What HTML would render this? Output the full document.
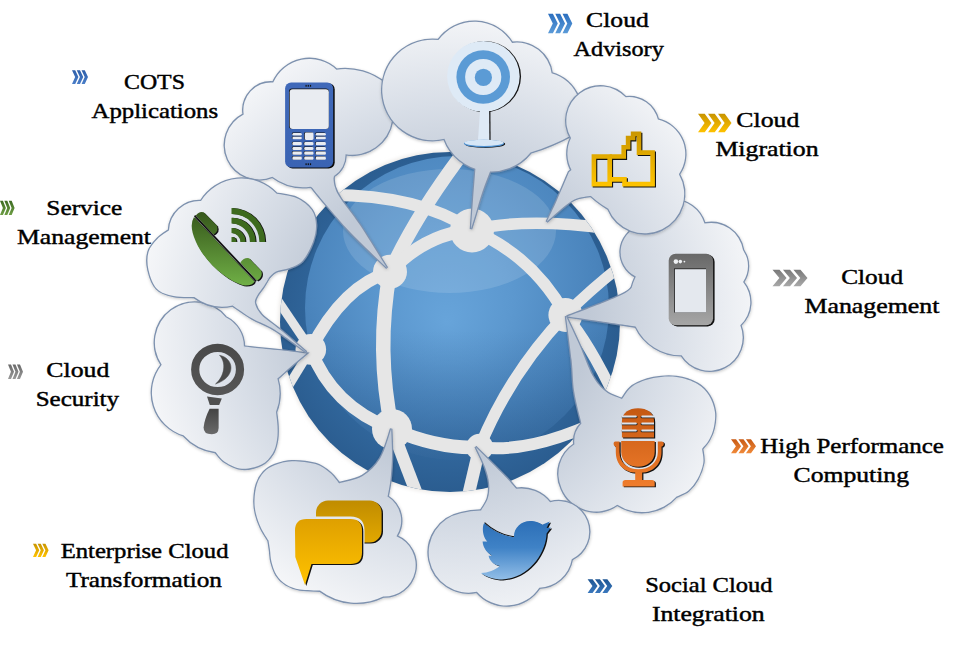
<!DOCTYPE html>
<html><head><meta charset="utf-8"><style>
html,body{margin:0;padding:0;background:#fff;}
svg{display:block;}
text{font-family:"Liberation Serif",serif;font-size:22px;fill:#000;stroke:#000;stroke-width:0.45px;}
.cs{fill:none;stroke:#7d91ae;stroke-width:2.6;}
.cf{fill:url(#gcl);stroke:none;}
</style></head><body>
<svg width="962" height="646" viewBox="0 0 962 646">
<defs>
<radialGradient id="gglobe" cx="447" cy="322" r="170" gradientUnits="userSpaceOnUse">
<stop offset="0" stop-color="#3d74ab"/><stop offset="0.8" stop-color="#30659a"/><stop offset="1" stop-color="#2b5d90"/>
</radialGradient>
<radialGradient id="ginner" cx="452" cy="220" r="290" fx="447" fy="322" gradientUnits="userSpaceOnUse">
<stop offset="0" stop-color="#67a4da"/><stop offset="0.22" stop-color="#5c98cf"/><stop offset="0.5" stop-color="#4a84bc"/><stop offset="0.75" stop-color="#3a70a6"/><stop offset="1" stop-color="#2d6196"/>
</radialGradient>
<linearGradient id="gdark" gradientUnits="userSpaceOnUse" x1="0" y1="330" x2="0" y2="470"><stop offset="0" stop-color="#1d4a7a" stop-opacity="0"/><stop offset="1" stop-color="#1d4a7a" stop-opacity="0.3"/></linearGradient>
<radialGradient id="gcl" cx="450" cy="322" r="330" gradientUnits="userSpaceOnUse">
<stop offset="0.42" stop-color="#c0c9d6"/><stop offset="0.66" stop-color="#d8dee7"/><stop offset="0.95" stop-color="#f6f7f9"/>
</radialGradient>
<linearGradient id="gtab" x1="0" y1="0" x2="0" y2="1"><stop offset="0" stop-color="#686868"/><stop offset="1" stop-color="#a6a6a6"/></linearGradient>
<linearGradient id="gtw" gradientUnits="userSpaceOnUse" x1="0" y1="521" x2="0" y2="580"><stop offset="0" stop-color="#2c6fb7"/><stop offset="0.45" stop-color="#3f82c6"/><stop offset="1" stop-color="#93bfe8"/></linearGradient>
<linearGradient id="gch1" x1="0" y1="0" x2="0" y2="1"><stop offset="0" stop-color="#c08c00"/><stop offset="1" stop-color="#e2a800"/></linearGradient>
<linearGradient id="gch2" x1="0" y1="0" x2="0" y2="1"><stop offset="0" stop-color="#dfa000"/><stop offset="1" stop-color="#ffc200"/></linearGradient>
<linearGradient id="ggr" gradientUnits="userSpaceOnUse" x1="0" y1="210" x2="0" y2="286"><stop offset="0" stop-color="#35551a"/><stop offset="1" stop-color="#70b046"/></linearGradient>
<linearGradient id="ch_blue1" x1="0" y1="0" x2="0" y2="1"><stop offset="0" stop-color="#2c6fbf"/><stop offset="1" stop-color="#5b9bd8"/></linearGradient>
<linearGradient id="ch_blue2" x1="0" y1="0" x2="0" y2="1"><stop offset="0" stop-color="#2d5ea9"/><stop offset="1" stop-color="#4a7ec8"/></linearGradient>
<linearGradient id="ch_blue3" x1="0" y1="0" x2="0" y2="1"><stop offset="0" stop-color="#1e5694"/><stop offset="1" stop-color="#3a78bd"/></linearGradient>
<linearGradient id="ch_gold" x1="0" y1="0" x2="0" y2="1"><stop offset="0" stop-color="#c89400"/><stop offset="1" stop-color="#ffc200"/></linearGradient>
<linearGradient id="ch_green" x1="0" y1="0" x2="0" y2="1"><stop offset="0" stop-color="#3c6a22"/><stop offset="1" stop-color="#6e9e44"/></linearGradient>
<linearGradient id="ch_grey1" x1="0" y1="0" x2="0" y2="1"><stop offset="0" stop-color="#7a7a7a"/><stop offset="1" stop-color="#a8a8a8"/></linearGradient>
<linearGradient id="ch_grey2" x1="0" y1="0" x2="0" y2="1"><stop offset="0" stop-color="#6a6a6a"/><stop offset="1" stop-color="#9a9a9a"/></linearGradient>
<linearGradient id="ch_orange" x1="0" y1="0" x2="0" y2="1"><stop offset="0" stop-color="#c85a14"/><stop offset="1" stop-color="#f08a3a"/></linearGradient>
<clipPath id="gclip"><circle cx="450" cy="322" r="170"/></clipPath>
<filter id="gsh" x="-10%" y="-10%" width="120%" height="120%"><feGaussianBlur stdDeviation="2"/></filter>
<linearGradient id="gphone" x1="0" y1="0" x2="0" y2="1"><stop offset="0" stop-color="#4069b9"/><stop offset="1" stop-color="#3a63b3"/></linearGradient>
<linearGradient id="gthumb" gradientUnits="userSpaceOnUse" x1="0" y1="131" x2="0" y2="187"><stop offset="0" stop-color="#c99500"/><stop offset="1" stop-color="#ffc400"/></linearGradient>
<linearGradient id="gmic" gradientUnits="userSpaceOnUse" x1="0" y1="408" x2="0" y2="487"><stop offset="0" stop-color="#c45812"/><stop offset="1" stop-color="#f07d2c"/></linearGradient>
<linearGradient id="gmag" x1="0" y1="0" x2="0" y2="1"><stop offset="0" stop-color="#4a4a4a"/><stop offset="1" stop-color="#555"/></linearGradient>
<linearGradient id="gmag2" x1="0" y1="0" x2="0" y2="1"><stop offset="0" stop-color="#444"/><stop offset="1" stop-color="#6a6a6a"/></linearGradient>
<filter id="csh" x="-15%" y="-15%" width="130%" height="130%"><feDropShadow dx="0.3" dy="1" stdDeviation="1.8" flood-color="#000" flood-opacity="0.22"/></filter>
</defs>
<circle cx="450" cy="322" r="171.2" fill="#e9e6e3" filter="url(#gsh)"/><circle cx="450" cy="322" r="170" fill="url(#gglobe)"/><circle cx="457" cy="308" r="152" fill="url(#ginner)"/><circle cx="457" cy="308" r="152" fill="url(#gdark)"/><ellipse cx="449.5" cy="231" rx="106.5" ry="62" fill="#ffffff" fill-opacity="0.13"/><g clip-path="url(#gclip)" fill="none" stroke="#e6e6e6" stroke-linecap="butt"><path d="M330,195 Q420,195 472,230" stroke-width="12"/><path d="M472,230 Q530,216 625,231" stroke-width="11.5"/><path d="M469,145 Q416,214 390,271.8" stroke-width="13.5"/><path d="M390,271.8 Q375.5,350 392,429" stroke-width="14.5"/><path d="M392,429 L421,505" stroke-width="12.5"/><path d="M390,271.8 Q425,234 472,230" stroke-width="13"/><path d="M390,271.8 Q343,286 310.8,349.4" stroke-width="12.5"/><path d="M472,230 Q533,256 565.4,314.9" stroke-width="12"/><path d="M565.4,314.9 Q595,285 635,255" stroke-width="11"/><path d="M565.4,314.9 Q510,373 479.6,447.2" stroke-width="11.5"/><path d="M565.4,314.9 Q595,350 625,420" stroke-width="11"/><path d="M310.8,349.4 Q332,406 392,429" stroke-width="12.5"/><path d="M392,429 Q440,449.5 479.6,447.2" stroke-width="13.5"/><path d="M479.6,447.2 Q540,455 630,405" stroke-width="12"/><path d="M479.6,447.2 L466,505" stroke-width="12.5"/><path d="M310.8,349.4 L272,292" stroke-width="9"/><path d="M310.8,349.4 L280,400" stroke-width="9"/></g><g fill="#e6e6e6"><circle cx="472" cy="230.5" r="22"/><circle cx="390" cy="271.8" r="17"/><circle cx="565.4" cy="314.9" r="17"/><circle cx="310.8" cy="349.4" r="15.3"/><circle cx="392" cy="429" r="20"/><circle cx="479.6" cy="447.2" r="13.5"/></g><g filter="url(#csh)"><g class="cs"><path d="M243.7,114.5 A27.7,27.7 0 0 1 273.2,82.5 A39.4,39.4 0 0 1 336.4,69.7 A63.8,63.8 0 0 1 386.0,84.0 A29.0,29.0 0 0 1 392.0,121.0 A40.3,40.3 0 0 1 345.5,154.2 A24.6,24.6 0 0 1 334.0,176.0 A16.7,16.7 0 0 1 310.3,186.7 A51.4,51.4 0 0 1 272.3,176.8 A34.3,34.3 0 0 1 243.7,114.5 Z"/><path d="M333.2,175.2 C333.5,177.2 333.6,183.1 334.9,187.1 C336.2,191.1 336.8,192.8 340.9,199.0 C345.0,205.2 351.9,213.1 359.6,224.6 C367.3,236.1 382.4,260.8 387.0,268.0 C381.0,262.2 361.2,243.6 351.0,233.0 C340.8,222.4 332.3,212.0 325.6,204.2 C318.9,196.4 313.4,189.3 311.0,186.3 L322.0,178.0 Z"/></g><g class="cf"><path d="M243.7,114.5 A27.7,27.7 0 0 1 273.2,82.5 A39.4,39.4 0 0 1 336.4,69.7 A63.8,63.8 0 0 1 386.0,84.0 A29.0,29.0 0 0 1 392.0,121.0 A40.3,40.3 0 0 1 345.5,154.2 A24.6,24.6 0 0 1 334.0,176.0 A16.7,16.7 0 0 1 310.3,186.7 A51.4,51.4 0 0 1 272.3,176.8 A34.3,34.3 0 0 1 243.7,114.5 Z"/><path d="M333.2,175.2 C333.5,177.2 333.6,183.1 334.9,187.1 C336.2,191.1 336.8,192.8 340.9,199.0 C345.0,205.2 351.9,213.1 359.6,224.6 C367.3,236.1 382.4,260.8 387.0,268.0 C381.0,262.2 361.2,243.6 351.0,233.0 C340.8,222.4 332.3,212.0 325.6,204.2 C318.9,196.4 313.4,189.3 311.0,186.3 L322.0,178.0 Z"/></g></g><g filter="url(#csh)"><g class="cs"><path d="M444.4,138.7 A50.2,50.2 0 1 1 438.4,40.1 A44.4,44.4 0 0 1 512.1,42.9 A35.1,35.1 0 0 1 551.6,73.2 A39.8,39.8 0 0 1 574.0,134.0 A226.0,226.0 0 0 1 530.5,152.6 A50.0,50.0 0 0 1 444.4,138.7 Z"/><path d="M475.6,160.0 L475.6,166.3 C475.2,171.9 473.8,189.6 473.0,200.0 C472.2,210.4 471.3,224.2 471.0,229.0 C471.8,226.6 473.7,220.6 475.6,214.3 C477.5,208.1 479.8,199.3 482.5,191.5 C485.2,183.7 490.1,171.5 491.6,167.5 L492.0,160.0 Z"/></g><g class="cf"><path d="M444.4,138.7 A50.2,50.2 0 1 1 438.4,40.1 A44.4,44.4 0 0 1 512.1,42.9 A35.1,35.1 0 0 1 551.6,73.2 A39.8,39.8 0 0 1 574.0,134.0 A226.0,226.0 0 0 1 530.5,152.6 A50.0,50.0 0 0 1 444.4,138.7 Z"/><path d="M475.6,160.0 L475.6,166.3 C475.2,171.9 473.8,189.6 473.0,200.0 C472.2,210.4 471.3,224.2 471.0,229.0 C471.8,226.6 473.7,220.6 475.6,214.3 C477.5,208.1 479.8,199.3 482.5,191.5 C485.2,183.7 490.1,171.5 491.6,167.5 L492.0,160.0 Z"/></g></g><g filter="url(#csh)"><g class="cs"><path d="M635.8,276.6 A27.3,27.3 0 0 1 640.0,226.0 A33.3,33.3 0 0 1 704.5,223.6 A32.3,32.3 0 0 1 743.0,250.0 A28.3,28.3 0 0 1 743.1,282.0 A31.8,31.8 0 0 1 740.3,325.3 A33.1,33.1 0 0 1 681.6,355.3 A50.1,50.1 0 0 1 635.8,326.7 A56.8,56.8 0 0 1 635.8,276.6 Z"/><path d="M640.0,278.0 L637.4,279.8 C635.7,281.8 633.0,287.8 627.4,291.6 C621.8,295.4 613.8,298.4 603.7,302.5 C593.6,306.6 573.1,314.2 567.0,316.5 C572.2,317.2 586.7,319.3 598.4,321.0 C610.1,322.7 630.9,325.8 637.4,326.8 L640.0,326.0 Z"/></g><g class="cf"><path d="M635.8,276.6 A27.3,27.3 0 0 1 640.0,226.0 A33.3,33.3 0 0 1 704.5,223.6 A32.3,32.3 0 0 1 743.0,250.0 A28.3,28.3 0 0 1 743.1,282.0 A31.8,31.8 0 0 1 740.3,325.3 A33.1,33.1 0 0 1 681.6,355.3 A50.1,50.1 0 0 1 635.8,326.7 A56.8,56.8 0 0 1 635.8,276.6 Z"/><path d="M640.0,278.0 L637.4,279.8 C635.7,281.8 633.0,287.8 627.4,291.6 C621.8,295.4 613.8,298.4 603.7,302.5 C593.6,306.6 573.1,314.2 567.0,316.5 C572.2,317.2 586.7,319.3 598.4,321.0 C610.1,322.7 630.9,325.8 637.4,326.8 L640.0,326.0 Z"/></g></g><g filter="url(#csh)"><g class="cs"><path d="M571.0,138.0 A34.3,34.3 0 0 1 625.7,97.3 A29.5,29.5 0 0 1 657.9,119.6 A35.3,35.3 0 0 1 678.9,174.2 A39.4,39.4 0 1 1 608.3,208.8 A94.4,94.4 0 0 1 572.0,171.0 A35.3,35.3 0 0 1 571.0,138.0 Z"/><path d="M574.0,168.0 L569.0,172.0 C567.0,176.7 560.7,191.7 557.0,200.0 C553.3,208.3 548.4,218.2 546.7,221.8 C550.9,218.3 564.6,205.3 571.8,201.0 C579.0,196.7 584.7,197.0 590.0,196.0 C595.3,195.0 601.2,195.3 603.4,195.2 L600.0,185.0 Z"/></g><g class="cf"><path d="M571.0,138.0 A34.3,34.3 0 0 1 625.7,97.3 A29.5,29.5 0 0 1 657.9,119.6 A35.3,35.3 0 0 1 678.9,174.2 A39.4,39.4 0 1 1 608.3,208.8 A94.4,94.4 0 0 1 572.0,171.0 A35.3,35.3 0 0 1 571.0,138.0 Z"/><path d="M574.0,168.0 L569.0,172.0 C567.0,176.7 560.7,191.7 557.0,200.0 C553.3,208.3 548.4,218.2 546.7,221.8 C550.9,218.3 564.6,205.3 571.8,201.0 C579.0,196.7 584.7,197.0 590.0,196.0 C595.3,195.0 601.2,195.3 603.4,195.2 L600.0,185.0 Z"/></g></g><g filter="url(#csh)"><g class="cs"><path d="M622.0,399.0 C623.8,396.9 627.3,389.7 632.5,386.2 C637.7,382.7 646.0,379.6 653.4,378.1 C660.8,376.6 669.2,376.0 676.6,377.0 C684.0,378.0 692.1,380.8 697.5,383.9 C702.9,387.0 706.2,390.9 709.1,395.5 C712.0,400.1 714.1,406.4 714.9,411.8 C715.7,417.2 714.7,423.3 713.7,428.0 C712.7,432.7 710.9,436.5 709.0,440.0 C707.1,443.5 703.2,447.4 702.1,448.9 C702.3,451.2 704.1,457.9 703.3,462.9 C702.5,467.9 700.0,474.5 697.5,479.1 C695.0,483.7 691.7,487.8 688.2,490.7 C684.7,493.6 678.5,495.5 676.6,496.5 A45.7,45.7 0 0 1 617.3,504.7 A37.1,37.1 0 0 1 561.6,488.4 A35.1,35.1 0 0 1 574.4,444.3 A25.9,25.9 0 0 1 581.4,423.4 A79.3,79.3 0 0 1 622.0,399.0 Z"/><path d="M581.4,423.4 C580.2,418.1 575.8,402.2 574.2,391.6 C572.6,381.0 573.0,372.6 571.6,360.0 C570.2,347.4 566.9,323.3 566.0,316.0 C568.2,320.8 575.1,335.0 579.5,345.0 C583.9,355.0 588.2,368.0 592.6,375.8 C597.0,383.6 600.9,387.7 605.8,391.6 C610.7,395.5 619.3,397.8 622.0,399.0 L605.0,420.0 Z"/></g><g class="cf"><path d="M622.0,399.0 C623.8,396.9 627.3,389.7 632.5,386.2 C637.7,382.7 646.0,379.6 653.4,378.1 C660.8,376.6 669.2,376.0 676.6,377.0 C684.0,378.0 692.1,380.8 697.5,383.9 C702.9,387.0 706.2,390.9 709.1,395.5 C712.0,400.1 714.1,406.4 714.9,411.8 C715.7,417.2 714.7,423.3 713.7,428.0 C712.7,432.7 710.9,436.5 709.0,440.0 C707.1,443.5 703.2,447.4 702.1,448.9 C702.3,451.2 704.1,457.9 703.3,462.9 C702.5,467.9 700.0,474.5 697.5,479.1 C695.0,483.7 691.7,487.8 688.2,490.7 C684.7,493.6 678.5,495.5 676.6,496.5 A45.7,45.7 0 0 1 617.3,504.7 A37.1,37.1 0 0 1 561.6,488.4 A35.1,35.1 0 0 1 574.4,444.3 A25.9,25.9 0 0 1 581.4,423.4 A79.3,79.3 0 0 1 622.0,399.0 Z"/><path d="M581.4,423.4 C580.2,418.1 575.8,402.2 574.2,391.6 C572.6,381.0 573.0,372.6 571.6,360.0 C570.2,347.4 566.9,323.3 566.0,316.0 C568.2,320.8 575.1,335.0 579.5,345.0 C583.9,355.0 588.2,368.0 592.6,375.8 C597.0,383.6 600.9,387.7 605.8,391.6 C610.7,395.5 619.3,397.8 622.0,399.0 L605.0,420.0 Z"/></g></g><g filter="url(#csh)"><g class="cs"><path d="M516.2,488.8 A36.3,36.3 0 0 1 550.1,502.3 A30.6,30.6 0 0 1 571.8,559.3 A34.1,34.1 0 0 1 539.3,587.7 A39.1,39.1 0 0 1 476.9,591.8 A40.1,40.1 0 0 1 460.7,513.2 A75.1,75.1 0 0 1 481.0,510.5 A12612.2,12612.2 0 0 1 516.2,488.8 Z"/><path d="M481.0,510.5 C482.1,508.5 486.4,502.8 487.8,498.3 C489.2,493.8 489.6,488.6 489.1,483.4 C488.6,478.2 487.2,473.2 485.0,467.1 C482.8,461.0 477.2,450.2 475.6,446.8 C478.1,449.3 485.3,456.5 490.5,461.7 C495.7,466.9 502.4,473.5 506.7,478.0 C511.0,482.5 514.6,487.0 516.2,488.8 L505.0,510.0 Z"/></g><g class="cf"><path d="M516.2,488.8 A36.3,36.3 0 0 1 550.1,502.3 A30.6,30.6 0 0 1 571.8,559.3 A34.1,34.1 0 0 1 539.3,587.7 A39.1,39.1 0 0 1 476.9,591.8 A40.1,40.1 0 0 1 460.7,513.2 A75.1,75.1 0 0 1 481.0,510.5 A12612.2,12612.2 0 0 1 516.2,488.8 Z"/><path d="M481.0,510.5 C482.1,508.5 486.4,502.8 487.8,498.3 C489.2,493.8 489.6,488.6 489.1,483.4 C488.6,478.2 487.2,473.2 485.0,467.1 C482.8,461.0 477.2,450.2 475.6,446.8 C478.1,449.3 485.3,456.5 490.5,461.7 C495.7,466.9 502.4,473.5 506.7,478.0 C511.0,482.5 514.6,487.0 516.2,488.8 L505.0,510.0 Z"/></g></g><g filter="url(#csh)"><g class="cs"><path d="M387.6,496.5 A28.3,28.3 0 0 1 396.5,536.2 A31.4,31.4 0 0 1 383.2,596.5 A60.7,60.7 0 0 1 320.0,590.6 C316.7,590.4 305.7,590.5 300.0,589.5 C294.3,588.5 289.9,586.9 286.0,584.5 C282.1,582.1 278.9,578.8 276.5,575.0 C274.1,571.2 272.6,566.2 271.5,562.0 C270.4,557.8 270.5,553.6 270.0,550.0 C269.5,546.4 268.8,542.2 268.5,540.6 C267.2,538.5 263.1,532.4 261.0,528.0 C258.9,523.6 257.1,518.7 256.0,514.0 C254.9,509.3 254.3,505.0 254.5,500.0 C254.7,495.0 255.4,488.7 257.0,484.0 C258.6,479.3 261.0,475.2 264.0,472.0 C267.0,468.8 270.3,466.8 275.0,465.0 C279.7,463.2 285.2,461.3 292.0,461.2 C298.8,461.1 309.2,462.1 315.6,464.1 C322.0,466.1 326.4,469.8 330.3,473.0 C334.2,476.2 337.6,481.5 339.1,483.2 A192.5,192.5 0 0 0 387.6,496.5 Z"/><path d="M339.1,483.2 C343.0,482.0 355.7,480.1 362.6,475.9 C369.5,471.7 375.5,466.0 380.3,458.2 C385.1,450.4 389.4,433.7 391.2,428.8 C391.3,433.2 392.1,447.0 392.0,455.3 C391.9,463.6 391.3,471.9 390.6,478.8 C389.9,485.7 388.1,493.6 387.6,496.5 L365.0,506.0 Z"/></g><g class="cf"><path d="M387.6,496.5 A28.3,28.3 0 0 1 396.5,536.2 A31.4,31.4 0 0 1 383.2,596.5 A60.7,60.7 0 0 1 320.0,590.6 C316.7,590.4 305.7,590.5 300.0,589.5 C294.3,588.5 289.9,586.9 286.0,584.5 C282.1,582.1 278.9,578.8 276.5,575.0 C274.1,571.2 272.6,566.2 271.5,562.0 C270.4,557.8 270.5,553.6 270.0,550.0 C269.5,546.4 268.8,542.2 268.5,540.6 C267.2,538.5 263.1,532.4 261.0,528.0 C258.9,523.6 257.1,518.7 256.0,514.0 C254.9,509.3 254.3,505.0 254.5,500.0 C254.7,495.0 255.4,488.7 257.0,484.0 C258.6,479.3 261.0,475.2 264.0,472.0 C267.0,468.8 270.3,466.8 275.0,465.0 C279.7,463.2 285.2,461.3 292.0,461.2 C298.8,461.1 309.2,462.1 315.6,464.1 C322.0,466.1 326.4,469.8 330.3,473.0 C334.2,476.2 337.6,481.5 339.1,483.2 A192.5,192.5 0 0 0 387.6,496.5 Z"/><path d="M339.1,483.2 C343.0,482.0 355.7,480.1 362.6,475.9 C369.5,471.7 375.5,466.0 380.3,458.2 C385.1,450.4 389.4,433.7 391.2,428.8 C391.3,433.2 392.1,447.0 392.0,455.3 C391.9,463.6 391.3,471.9 390.6,478.8 C389.9,485.7 388.1,493.6 387.6,496.5 L365.0,506.0 Z"/></g></g><g filter="url(#csh)"><g class="cs"><path d="M277.4,378.6 A51.5,51.5 0 0 1 276.0,412.0 C276.2,414.3 277.3,421.3 277.5,426.0 C277.7,430.7 277.8,435.4 277.0,440.0 C276.2,444.6 275.3,449.4 272.7,453.5 C270.1,457.6 266.6,462.1 261.5,464.6 C256.4,467.2 248.1,469.2 242.0,468.8 C235.9,468.4 229.4,464.8 225.0,462.0 C220.6,459.2 217.1,453.8 215.5,452.1 A53.0,53.0 0 0 1 183.5,435.3 A44.7,44.7 0 0 1 161.7,364.7 A39.9,39.9 0 0 1 225.8,317.3 A32.5,32.5 0 0 1 243.9,346.6 A173.0,173.0 0 0 0 277.4,378.6 Z"/><path d="M243.9,346.6 C246.0,346.8 249.8,347.3 256.5,348.0 C263.2,348.7 276.0,349.8 284.4,350.7 C292.8,351.6 302.9,353.0 306.6,353.5 C303.8,355.8 294.8,363.3 289.9,367.5 C285.0,371.7 279.5,376.8 277.4,378.6 L255.0,376.0 Z"/></g><g class="cf"><path d="M277.4,378.6 A51.5,51.5 0 0 1 276.0,412.0 C276.2,414.3 277.3,421.3 277.5,426.0 C277.7,430.7 277.8,435.4 277.0,440.0 C276.2,444.6 275.3,449.4 272.7,453.5 C270.1,457.6 266.6,462.1 261.5,464.6 C256.4,467.2 248.1,469.2 242.0,468.8 C235.9,468.4 229.4,464.8 225.0,462.0 C220.6,459.2 217.1,453.8 215.5,452.1 A53.0,53.0 0 0 1 183.5,435.3 A44.7,44.7 0 0 1 161.7,364.7 A39.9,39.9 0 0 1 225.8,317.3 A32.5,32.5 0 0 1 243.9,346.6 A173.0,173.0 0 0 0 277.4,378.6 Z"/><path d="M243.9,346.6 C246.0,346.8 249.8,347.3 256.5,348.0 C263.2,348.7 276.0,349.8 284.4,350.7 C292.8,351.6 302.9,353.0 306.6,353.5 C303.8,355.8 294.8,363.3 289.9,367.5 C285.0,371.7 279.5,376.8 277.4,378.6 L255.0,376.0 Z"/></g></g><g filter="url(#csh)"><g class="cs"><path d="M169.0,230.2 A30.3,30.3 0 0 1 201.0,201.1 A47.9,47.9 0 0 1 276.7,193.8 C280.1,194.5 291.2,195.5 297.0,198.2 C302.8,200.9 308.4,205.3 311.6,209.8 C314.8,214.3 315.8,219.7 316.0,225.0 C316.2,230.3 315.2,235.9 313.0,241.8 C310.8,247.7 306.7,256.2 302.8,260.6 C298.9,265.0 294.2,266.3 289.7,268.1 C285.2,269.9 279.4,269.9 276.0,271.5 C272.6,273.1 270.2,276.4 269.1,277.4 A201.7,201.7 0 0 0 232.6,305.5 A47.1,47.1 0 0 1 194.3,297.1 C190.9,296.9 179.9,297.5 173.7,296.1 C167.4,294.7 161.0,293.1 156.8,288.7 C152.6,284.3 149.9,276.1 148.5,270.0 C147.1,263.9 147.0,257.2 148.5,252.0 C150.0,246.8 154.0,242.5 157.4,238.9 C160.8,235.3 167.1,231.6 169.0,230.2 Z"/><path d="M269.1,277.4 C268.2,279.0 265.5,283.7 263.5,286.8 C261.5,289.9 258.4,293.3 257.0,296.1 C255.6,298.9 254.3,300.5 255.1,303.6 C255.9,306.7 257.4,310.5 261.6,314.9 C265.8,319.3 272.8,323.6 280.3,329.8 C287.8,336.0 302.1,348.6 306.5,352.3 C301.2,348.6 283.7,335.4 274.7,329.8 C265.7,324.2 259.3,322.7 252.3,318.6 C245.3,314.6 235.9,307.7 232.6,305.5 L245.0,290.0 Z"/></g><g class="cf"><path d="M169.0,230.2 A30.3,30.3 0 0 1 201.0,201.1 A47.9,47.9 0 0 1 276.7,193.8 C280.1,194.5 291.2,195.5 297.0,198.2 C302.8,200.9 308.4,205.3 311.6,209.8 C314.8,214.3 315.8,219.7 316.0,225.0 C316.2,230.3 315.2,235.9 313.0,241.8 C310.8,247.7 306.7,256.2 302.8,260.6 C298.9,265.0 294.2,266.3 289.7,268.1 C285.2,269.9 279.4,269.9 276.0,271.5 C272.6,273.1 270.2,276.4 269.1,277.4 A201.7,201.7 0 0 0 232.6,305.5 A47.1,47.1 0 0 1 194.3,297.1 C190.9,296.9 179.9,297.5 173.7,296.1 C167.4,294.7 161.0,293.1 156.8,288.7 C152.6,284.3 149.9,276.1 148.5,270.0 C147.1,263.9 147.0,257.2 148.5,252.0 C150.0,246.8 154.0,242.5 157.4,238.9 C160.8,235.3 167.1,231.6 169.0,230.2 Z"/><path d="M269.1,277.4 C268.2,279.0 265.5,283.7 263.5,286.8 C261.5,289.9 258.4,293.3 257.0,296.1 C255.6,298.9 254.3,300.5 255.1,303.6 C255.9,306.7 257.4,310.5 261.6,314.9 C265.8,319.3 272.8,323.6 280.3,329.8 C287.8,336.0 302.1,348.6 306.5,352.3 C301.2,348.6 283.7,335.4 274.7,329.8 C265.7,324.2 259.3,322.7 252.3,318.6 C245.3,314.6 235.9,307.7 232.6,305.5 L245.0,290.0 Z"/></g></g><g><rect x="286.6" y="83.2" width="48.1" height="85.2" rx="6" fill="#0a0a0a"/><rect x="285.1" y="82.4" width="48.1" height="85.2" rx="6" fill="url(#gphone)"/><rect x="289" y="88.5" width="39.8" height="40.5" rx="3" fill="#111"/><rect x="289.7" y="89.2" width="39.1" height="39.8" rx="3" fill="#e9ecf1"/><rect x="305.5" y="84.9" width="1.2" height="1.8" fill="#111"/><rect x="307.7" y="84.9" width="1.2" height="1.8" fill="#111"/><rect x="309.9" y="84.9" width="1.2" height="1.8" fill="#111"/><rect x="305.5" y="163.3" width="1.2" height="1.8" fill="#111"/><rect x="307.7" y="163.3" width="1.2" height="1.8" fill="#111"/><rect x="309.9" y="163.3" width="1.2" height="1.8" fill="#111"/><rect x="291.8" y="132.6" width="9.4" height="2.7" rx="1.3" fill="#111"/><rect x="292.4" y="132.9" width="9.4" height="2.7" rx="1.3" fill="#e9ecf1"/><rect x="315.1" y="132.6" width="10.2" height="2.7" rx="1.3" fill="#111"/><rect x="315.7" y="132.9" width="10.2" height="2.7" rx="1.3" fill="#e9ecf1"/><rect x="291.8" y="136.4" width="9.4" height="2.6" rx="1.3" fill="#111"/><rect x="292.4" y="136.7" width="9.4" height="2.6" rx="1.3" fill="#e9ecf1"/><rect x="315.1" y="136.4" width="10.2" height="2.6" rx="1.3" fill="#111"/><rect x="315.7" y="136.7" width="10.2" height="2.6" rx="1.3" fill="#e9ecf1"/><rect x="291.8" y="141.8" width="9.4" height="3.2" rx="1.3" fill="#111"/><rect x="292.4" y="142.1" width="9.4" height="3.2" rx="1.3" fill="#e9ecf1"/><rect x="303.6" y="141.8" width="9.3" height="3.2" rx="1.3" fill="#111"/><rect x="304.2" y="142.1" width="9.3" height="3.2" rx="1.3" fill="#e9ecf1"/><rect x="315.1" y="141.8" width="10.2" height="3.2" rx="1.3" fill="#111"/><rect x="315.7" y="142.1" width="10.2" height="3.2" rx="1.3" fill="#e9ecf1"/><rect x="291.8" y="146.6" width="9.4" height="3.2" rx="1.3" fill="#111"/><rect x="292.4" y="146.9" width="9.4" height="3.2" rx="1.3" fill="#e9ecf1"/><rect x="303.6" y="146.6" width="9.3" height="3.2" rx="1.3" fill="#111"/><rect x="304.2" y="146.9" width="9.3" height="3.2" rx="1.3" fill="#e9ecf1"/><rect x="315.1" y="146.6" width="10.2" height="3.2" rx="1.3" fill="#111"/><rect x="315.7" y="146.9" width="10.2" height="3.2" rx="1.3" fill="#e9ecf1"/><rect x="291.8" y="151.2" width="9.4" height="3.2" rx="1.3" fill="#111"/><rect x="292.4" y="151.5" width="9.4" height="3.2" rx="1.3" fill="#e9ecf1"/><rect x="303.6" y="151.2" width="9.3" height="3.2" rx="1.3" fill="#111"/><rect x="304.2" y="151.5" width="9.3" height="3.2" rx="1.3" fill="#e9ecf1"/><rect x="315.1" y="151.2" width="10.2" height="3.2" rx="1.3" fill="#111"/><rect x="315.7" y="151.5" width="10.2" height="3.2" rx="1.3" fill="#e9ecf1"/><rect x="291.8" y="156.3" width="9.4" height="3.1" rx="1.3" fill="#111"/><rect x="292.4" y="156.6" width="9.4" height="3.1" rx="1.3" fill="#e9ecf1"/><rect x="303.6" y="156.3" width="9.3" height="3.1" rx="1.3" fill="#111"/><rect x="304.2" y="156.6" width="9.3" height="3.1" rx="1.3" fill="#e9ecf1"/><rect x="315.1" y="156.3" width="10.2" height="3.1" rx="1.3" fill="#111"/><rect x="315.7" y="156.6" width="10.2" height="3.1" rx="1.3" fill="#e9ecf1"/><rect x="304.2" y="132.3" width="8.7" height="7.3" rx="1.3" fill="#111"/><rect x="304.8" y="132.6" width="8.7" height="7.3" rx="1.3" fill="#e9ecf1"/></g><g>
<ellipse cx="484.6" cy="76.6" rx="36.4" ry="35.6" fill="#111"/>
<ellipse cx="483.4" cy="76.4" rx="36.3" ry="35.5" fill="#deeaf6"/>
<circle cx="483.2" cy="77" r="26.8" fill="#5b9bd5"/>
<circle cx="483.2" cy="77" r="18.1" fill="#deeaf6"/>
<circle cx="483.4" cy="77.4" r="8.6" fill="#5b9bd5"/>
<path d="M481,111 L490.4,111 L490.6,140 L479.2,140 Z" fill="#111"/>
<path d="M480,111 L489.2,111 L489.4,140 L478,140 Z" fill="#deeaf6"/>
<ellipse cx="485" cy="144" rx="20.2" ry="3.9" fill="#111"/>
<ellipse cx="484" cy="143.6" rx="20.1" ry="3.9" fill="#4e90d0"/>
<ellipse cx="484" cy="142.8" rx="19.6" ry="3.1" fill="#d6e6f6"/>
</g><g fill="none" stroke-width="4.6" stroke-linejoin="miter"><g stroke="#111" transform="translate(1.1,1.1)"><path d="M609.7,156.5 L623.7,156.5 L623.7,147.3 L628.1,147.3 L628.1,138 L633.1,138 L633.1,133.9 L639,133.9 L639,152.6 L652.6,152.6 L652.6,184.1 L624.5,184.1 L624.5,179.4 L609.7,179.4"/><path d="M593.9,156.5 L609.7,156.5 L609.7,184.1 L593.9,184.1 Z"/></g><g stroke="url(#gthumb)"><path d="M609.7,156.5 L623.7,156.5 L623.7,147.3 L628.1,147.3 L628.1,138 L633.1,138 L633.1,133.9 L639,133.9 L639,152.6 L652.6,152.6 L652.6,184.1 L624.5,184.1 L624.5,179.4 L609.7,179.4"/><path d="M593.9,156.5 L609.7,156.5 L609.7,184.1 L593.9,184.1 Z"/></g></g><g>
<rect x="670.2" y="254.8" width="44.4" height="71.6" rx="7" fill="#111"/>
<rect x="668.7" y="253.7" width="44.4" height="71.6" rx="7" fill="url(#gtab)"/>
<rect x="674" y="268.5" width="32" height="44" fill="#111"/>
<rect x="674.8" y="269.2" width="31.2" height="43.3" fill="#e4e8ee"/>
<circle cx="675.9" cy="261.6" r="2.3" fill="#eef0f3"/><circle cx="680.3" cy="261.6" r="1.8" fill="#eef0f3"/><circle cx="684.4" cy="261.6" r="0.9" fill="#eef0f3"/>
</g><g><g fill="#111" transform="translate(1.2,0.9)"><path d="M621.9,437.6 L621.9,421 C621.9,413 629,408.3 638,408.3 C647,408.3 654,413 654,421 L654,437.6 Z"/><path d="M621.2,441 L654.7,441 L654.7,452 C654.7,461 647,466.8 638,466.8 C629,466.8 621.2,461 621.2,452 Z"/><path d="M613.6,443.5 C613.6,441.5 615,441.4 616.5,441.4 L619.5,441.4 L619.5,452 C619.5,463 628,469.3 638.5,469.3 C649,469.3 657.8,463 657.8,452 L657.8,441.4 L661,441.4 C662.5,441.4 663.8,442 663.8,443.8 C663.8,446 662,446.6 661.5,446.6 L661.5,452 C661.5,465 652,472.4 642.2,472.6 L642.2,480 L652,480 C654,480 654.7,481 654.7,482.5 L654.7,486.4 L622.6,486.4 L622.6,482.5 C622.6,481 623.5,480 625.5,480 L635.2,480 L635.2,472.6 C625,472.4 615.8,465 615.8,452 L615.8,446.6 C615,446.6 613.6,446 613.6,443.5 Z"/></g><g fill="url(#gmic)"><path d="M621.9,437.6 L621.9,421 C621.9,413 629,408.3 638,408.3 C647,408.3 654,413 654,421 L654,437.6 Z"/><path d="M621.2,441 L654.7,441 L654.7,452 C654.7,461 647,466.8 638,466.8 C629,466.8 621.2,461 621.2,452 Z"/><path d="M613.6,443.5 C613.6,441.5 615,441.4 616.5,441.4 L619.5,441.4 L619.5,452 C619.5,463 628,469.3 638.5,469.3 C649,469.3 657.8,463 657.8,452 L657.8,441.4 L661,441.4 C662.5,441.4 663.8,442 663.8,443.8 C663.8,446 662,446.6 661.5,446.6 L661.5,452 C661.5,465 652,472.4 642.2,472.6 L642.2,480 L652,480 C654,480 654.7,481 654.7,482.5 L654.7,486.4 L622.6,486.4 L622.6,482.5 C622.6,481 623.5,480 625.5,480 L635.2,480 L635.2,472.6 C625,472.4 615.8,465 615.8,452 L615.8,446.6 C615,446.6 613.6,446 613.6,443.5 Z"/></g><path d="M621.9,415.9 h14.6 a1.15,1.15 0 0 1 0,2.3 h-14.6 Z" fill="#1a1a1a"/><path d="M654,415.9 h-12.3 a1.15,1.15 0 0 0 0,2.3 h12.3 Z" fill="#1a1a1a"/><path d="M621.9,415.5 h14 a0.95,0.95 0 0 1 0,1.9 h-14 Z" fill="#dde2ea"/><path d="M654,415.5 h-11.8 a0.95,0.95 0 0 0 0,1.9 h11.8 Z" fill="#dde2ea"/><path d="M621.9,422.9 h14.6 a1.15,1.15 0 0 1 0,2.3 h-14.6 Z" fill="#1a1a1a"/><path d="M654,422.9 h-12.3 a1.15,1.15 0 0 0 0,2.3 h12.3 Z" fill="#1a1a1a"/><path d="M621.9,422.5 h14 a0.95,0.95 0 0 1 0,1.9 h-14 Z" fill="#dde2ea"/><path d="M654,422.5 h-11.8 a0.95,0.95 0 0 0 0,1.9 h11.8 Z" fill="#dde2ea"/><path d="M621.9,429.9 h14.6 a1.15,1.15 0 0 1 0,2.3 h-14.6 Z" fill="#1a1a1a"/><path d="M654,429.9 h-12.3 a1.15,1.15 0 0 0 0,2.3 h12.3 Z" fill="#1a1a1a"/><path d="M621.9,429.5 h14 a0.95,0.95 0 0 1 0,1.9 h-14 Z" fill="#dde2ea"/><path d="M654,429.5 h-11.8 a0.95,0.95 0 0 0 0,1.9 h11.8 Z" fill="#dde2ea"/></g><path d="M484.2,523.1 C490,528.5 500,535.5 514,537.2 C513.5,528 521,521 530,521 C536,521 540,523 542.2,524.8 L549.8,521.5 L546.6,528 L550.9,527.5 L546.6,533.4 C546,552 530,578 502,579.5 C494,579.5 486,577 481,573 C488,573 495,570 499.9,566 C494,565 489.5,561 488.6,555.7 L492.3,555.7 C487,553 483,548 482.6,541.6 L487.5,541.6 C483,538 481.5,528 484.2,523.1 Z" fill="#111" transform="translate(1.3,0.9)"/><path d="M484.6,522.6 C490.5,528 500.5,535 514.4,536.7" fill="none" stroke="#111" stroke-width="1.1"/><path d="M484.2,523.1 C490,528.5 500,535.5 514,537.2 C513.5,528 521,521 530,521 C536,521 540,523 542.2,524.8 L549.8,521.5 L546.6,528 L550.9,527.5 L546.6,533.4 C546,552 530,578 502,579.5 C494,579.5 486,577 481,573 C488,573 495,570 499.9,566 C494,565 489.5,561 488.6,555.7 L492.3,555.7 C487,553 483,548 482.6,541.6 L487.5,541.6 C483,538 481.5,528 484.2,523.1 Z" fill="url(#gtw)"/><rect x="317.4" y="501.4" width="65.6" height="42" rx="12" fill="#111"/><rect x="316" y="500.5" width="65.6" height="42" rx="12" fill="url(#gch1)"/><clipPath id="cpback"><rect x="316" y="500.5" width="67" height="43.5" rx="12"/></clipPath><path d="M306.5,519 L350.5,519 Q362,519 362,530.5 L362,552.5 Q362,564 350.5,564 L311.5,564 L305,585 L295.3,557 L295,530.5 Q295,519 306.5,519 Z" fill="#e3e7ed" stroke="#e3e7ed" stroke-width="5" stroke-linejoin="round" clip-path="url(#cpback)"/><path d="M306.5,519 L350.5,519 Q362,519 362,530.5 L362,552.5 Q362,564 350.5,564 L311.5,564 L305,585 L295.3,557 L295,530.5 Q295,519 306.5,519 Z" fill="#111" transform="translate(1.3,1.1)"/><path d="M306.5,519 L350.5,519 Q362,519 362,530.5 L362,552.5 Q362,564 350.5,564 L311.5,564 L305,585 L295.3,557 L295,530.5 Q295,519 306.5,519 Z" fill="url(#gch2)"/><g>
<ellipse cx="217.6" cy="369.5" rx="22.4" ry="21.7" fill="none" stroke="url(#gmag)" stroke-width="8.2"/>
<path d="M219.5,355.3 C234,358 237,377 215.5,384 C224,377 227,363 219.5,355.3 Z" fill="#4a4a4a" stroke="#4a4a4a" stroke-width="0.5"/>
<path d="M207,396.6 L221.8,398.4 L219.2,405 L209.8,405 Z" fill="#505050"/>
<path d="M209.6,408.8 L218.6,408.8 L218.6,428 Q218.6,434.2 211.8,434.2 Q203.4,434.2 203.6,427.5 Q204.5,419 209.6,408.8 Z" fill="url(#gmag2)"/>
</g><g><g fill="#111" transform="translate(1.2,1.0)"><path d="M194,217 L254.5,281.5 Q252.5,286 243,285.3 C228,281 206,264 196,242 Q188.5,226 194,217 Z"/><path d="M195.8,215.5 Q199.2,210.7 203.7,212.3 L216.8,225.5 Q219.2,231 213.5,234.5 Z"/><path d="M240.3,262.4 Q244.5,257 249.2,258.3 L261.2,270.8 Q263.4,276.6 257,280.6 Z"/></g><path d="M194,217 L254.5,281.5 Q252.5,286 243,285.3 C228,281 206,264 196,242 Q188.5,226 194,217 Z" fill="url(#ggr)"/><path d="M194.6,215.6 L256.2,281.3" stroke="#111" stroke-width="1.8"/><path d="M195.8,215.5 Q199.2,210.7 203.7,212.3 L216.8,225.5 Q219.2,231 213.5,234.5 Z" fill="url(#ggr)"/><path d="M240.3,262.4 Q244.5,257 249.2,258.3 L261.2,270.8 Q263.4,276.6 257,280.6 Z" fill="url(#ggr)"/></g><g fill="#111" transform="translate(0.9,0)"><path d="M231.5,241.9 L231.5,236.9 A5,5 0 0 1 236.5,241.9 Z"/><path d="M231.5,233.1 L231.5,227.9 A14,14 0 0 1 245.5,241.9 L240.3,241.9 A8.8,8.8 0 0 0 231.5,233.1 Z"/><path d="M231.5,223.5 L231.5,217.7 A24.2,24.2 0 0 1 255.7,241.9 L249.9,241.9 A18.4,18.4 0 0 0 231.5,223.5 Z"/><path d="M231.5,214 L231.5,208.1 A33.8,33.8 0 0 1 265.3,241.9 L259.4,241.9 A27.9,27.9 0 0 0 231.5,214 Z"/></g><g fill="#3d6a1e"><path d="M231.5,241.9 L231.5,236.9 A5,5 0 0 1 236.5,241.9 Z"/><path d="M231.5,233.1 L231.5,227.9 A14,14 0 0 1 245.5,241.9 L240.3,241.9 A8.8,8.8 0 0 0 231.5,233.1 Z"/><path d="M231.5,223.5 L231.5,217.7 A24.2,24.2 0 0 1 255.7,241.9 L249.9,241.9 A18.4,18.4 0 0 0 231.5,223.5 Z"/><path d="M231.5,214 L231.5,208.1 A33.8,33.8 0 0 1 265.3,241.9 L259.4,241.9 A27.9,27.9 0 0 0 231.5,214 Z"/></g><path d="M548.00,13.80 L552.88,13.80 L557.77,23.50 L552.88,33.20 L548.00,33.20 L552.79,23.50 Z" fill="url(#ch_blue1)"/><path d="M555.27,13.80 L560.15,13.80 L565.03,23.50 L560.15,33.20 L555.27,33.20 L560.05,23.50 Z" fill="url(#ch_blue1)"/><path d="M562.53,13.80 L567.42,13.80 L572.30,23.50 L567.42,33.20 L562.53,33.20 L567.32,23.50 Z" fill="url(#ch_blue1)"/><path d="M72.00,70.20 L75.22,70.20 L78.43,77.05 L75.22,83.90 L72.00,83.90 L75.15,77.05 Z" fill="url(#ch_blue2)"/><path d="M76.78,70.20 L80.00,70.20 L83.22,77.05 L80.00,83.90 L76.78,83.90 L79.94,77.05 Z" fill="url(#ch_blue2)"/><path d="M81.57,70.20 L84.78,70.20 L88.00,77.05 L84.78,83.90 L81.57,83.90 L84.72,77.05 Z" fill="url(#ch_blue2)"/><path d="M698.00,113.80 L704.73,113.80 L711.46,123.05 L704.73,132.30 L698.00,132.30 L704.60,123.05 Z" fill="url(#ch_gold)"/><path d="M708.02,113.80 L714.75,113.80 L721.48,123.05 L714.75,132.30 L708.02,132.30 L714.62,123.05 Z" fill="url(#ch_gold)"/><path d="M718.04,113.80 L724.77,113.80 L731.50,123.05 L724.77,132.30 L718.04,132.30 L724.63,123.05 Z" fill="url(#ch_gold)"/><path d="M0.00,200.80 L2.93,200.80 L5.87,207.90 L2.93,215.00 L0.00,215.00 L2.88,207.90 Z" fill="url(#ch_green)"/><path d="M4.37,200.80 L7.30,200.80 L10.23,207.90 L7.30,215.00 L4.37,215.00 L7.24,207.90 Z" fill="url(#ch_green)"/><path d="M8.73,200.80 L11.67,200.80 L14.60,207.90 L11.67,215.00 L8.73,215.00 L11.61,207.90 Z" fill="url(#ch_green)"/><path d="M772.50,269.80 L779.53,269.80 L786.57,278.00 L779.53,286.20 L772.50,286.20 L779.39,278.00 Z" fill="url(#ch_grey1)"/><path d="M782.97,269.80 L790.00,269.80 L797.03,278.00 L790.00,286.20 L782.97,286.20 L789.86,278.00 Z" fill="url(#ch_grey1)"/><path d="M793.43,269.80 L800.47,269.80 L807.50,278.00 L800.47,286.20 L793.43,286.20 L800.33,278.00 Z" fill="url(#ch_grey1)"/><path d="M8.00,364.60 L11.01,364.60 L14.03,371.85 L11.01,379.10 L8.00,379.10 L10.95,371.85 Z" fill="url(#ch_grey2)"/><path d="M12.49,364.60 L15.50,364.60 L18.51,371.85 L15.50,379.10 L12.49,379.10 L15.44,371.85 Z" fill="url(#ch_grey2)"/><path d="M16.97,364.60 L19.99,364.60 L23.00,371.85 L19.99,379.10 L16.97,379.10 L19.93,371.85 Z" fill="url(#ch_grey2)"/><path d="M731.00,439.30 L736.02,439.30 L741.05,446.25 L736.02,453.20 L731.00,453.20 L735.92,446.25 Z" fill="url(#ch_orange)"/><path d="M738.48,439.30 L743.50,439.30 L748.52,446.25 L743.50,453.20 L738.48,453.20 L743.40,446.25 Z" fill="url(#ch_orange)"/><path d="M745.95,439.30 L750.98,439.30 L756.00,446.25 L750.98,453.20 L745.95,453.20 L750.88,446.25 Z" fill="url(#ch_orange)"/><path d="M33.00,543.70 L36.14,543.70 L39.27,550.35 L36.14,557.00 L33.00,557.00 L36.07,550.35 Z" fill="url(#ch_gold)"/><path d="M37.66,543.70 L40.80,543.70 L43.94,550.35 L40.80,557.00 L37.66,557.00 L40.74,550.35 Z" fill="url(#ch_gold)"/><path d="M42.33,543.70 L45.46,543.70 L48.60,550.35 L45.46,557.00 L42.33,557.00 L45.40,550.35 Z" fill="url(#ch_gold)"/><path d="M587.60,579.20 L592.56,579.20 L597.53,586.10 L592.56,593.00 L587.60,593.00 L592.46,586.10 Z" fill="url(#ch_blue3)"/><path d="M594.99,579.20 L599.95,579.20 L604.91,586.10 L599.95,593.00 L594.99,593.00 L599.85,586.10 Z" fill="url(#ch_blue3)"/><path d="M602.37,579.20 L607.34,579.20 L612.30,586.10 L607.34,593.00 L602.37,593.00 L607.24,586.10 Z" fill="url(#ch_blue3)"/><text x="586.10" y="26.90" textLength="62.70" lengthAdjust="spacingAndGlyphs">Cloud</text><text x="573.60" y="55.70" textLength="90.20" lengthAdjust="spacingAndGlyphs">Advisory</text><text x="124.00" y="89.20" textLength="60.90" lengthAdjust="spacingAndGlyphs">COTS</text><text x="91.60" y="118.30" textLength="126.50" lengthAdjust="spacingAndGlyphs">Applications</text><text x="736.30" y="126.90" textLength="63.00" lengthAdjust="spacingAndGlyphs">Cloud</text><text x="715.40" y="155.70" textLength="103.20" lengthAdjust="spacingAndGlyphs">Migration</text><text x="46.30" y="214.60" textLength="76.00" lengthAdjust="spacingAndGlyphs">Service</text><text x="17.00" y="243.60" textLength="134.00" lengthAdjust="spacingAndGlyphs">Management</text><text x="841.20" y="283.60" textLength="61.90" lengthAdjust="spacingAndGlyphs">Cloud</text><text x="804.50" y="312.70" textLength="134.90" lengthAdjust="spacingAndGlyphs">Management</text><text x="46.30" y="377.40" textLength="63.00" lengthAdjust="spacingAndGlyphs">Cloud</text><text x="35.70" y="406.00" textLength="83.40" lengthAdjust="spacingAndGlyphs">Security</text><text x="760.30" y="452.50" textLength="183.60" lengthAdjust="spacingAndGlyphs">High Performance</text><text x="793.60" y="482.40" textLength="115.40" lengthAdjust="spacingAndGlyphs">Computing</text><text x="60.70" y="557.90" textLength="167.80" lengthAdjust="spacingAndGlyphs">Enterprise Cloud</text><text x="65.90" y="586.70" textLength="156.00" lengthAdjust="spacingAndGlyphs">Transformation</text><text x="645.20" y="591.60" textLength="127.30" lengthAdjust="spacingAndGlyphs">Social Cloud</text><text x="651.90" y="620.70" textLength="112.80" lengthAdjust="spacingAndGlyphs">Integration</text></svg></body></html>
